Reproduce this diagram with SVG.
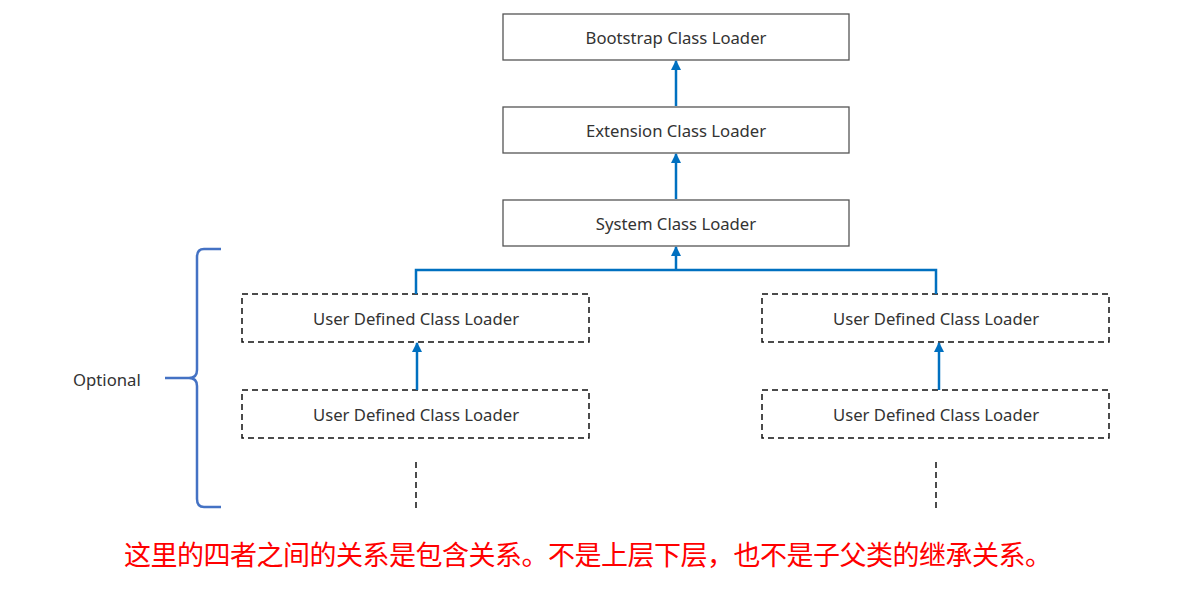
<svg xmlns="http://www.w3.org/2000/svg" width="1196" height="603" viewBox="0 0 1196 603">
<defs>
<marker id="ah" viewBox="0 0 10 10" refX="9" refY="5" markerWidth="4" markerHeight="4" orient="auto">
<path d="M0,0 L10,5 L0,10 z" fill="#0070C0"/>
</marker>
<style>
.box{fill:#fff;stroke:#555;stroke-width:1.3}
.dbox{fill:#fff;stroke:#111;stroke-width:1.5;stroke-dasharray:6,4}
.lbl{font-family:"Noto Sans","Open Sans",sans-serif;font-size:16.7px;fill:#333;text-anchor:middle}
.con{fill:none;stroke:#0070C0;stroke-width:2.5}
.dash{stroke:#111;stroke-width:1.5;stroke-dasharray:6,4}
</style>
</defs>
<rect width="1196" height="603" fill="#fff"/>
<g id="bootstrap"><rect class="box" x="503" y="14" width="346" height="46"/><text class="lbl" x="676" y="44">Bootstrap Class Loader</text></g>
<g id="extension"><rect class="box" x="503" y="107" width="346" height="46"/><text class="lbl" x="676" y="137">Extension Class Loader</text></g>
<g id="system"><rect class="box" x="503" y="200" width="346" height="46"/><text class="lbl" x="676" y="230">System Class Loader</text></g>
<g id="user-l1"><rect class="dbox" x="242" y="294" width="347" height="48"/><text class="lbl" x="416" y="325">User Defined Class Loader</text></g>
<g id="user-l2"><rect class="dbox" x="242" y="390" width="347" height="48"/><text class="lbl" x="416" y="421">User Defined Class Loader</text></g>
<g id="user-r1"><rect class="dbox" x="762" y="294" width="347" height="48"/><text class="lbl" x="936" y="325">User Defined Class Loader</text></g>
<g id="user-r2"><rect class="dbox" x="762" y="390" width="347" height="48"/><text class="lbl" x="936" y="421">User Defined Class Loader</text></g>
<g id="connectors">
<line class="con" x1="676" y1="106" x2="676" y2="61" marker-end="url(#ah)"/>
<line class="con" x1="676" y1="199" x2="676" y2="154" marker-end="url(#ah)"/>
<line class="con" x1="676" y1="270" x2="676" y2="247" marker-end="url(#ah)"/>
<polyline class="con" points="416,294 416,270 936,270 936,294"/>
<line class="con" x1="417" y1="390" x2="417" y2="343" marker-end="url(#ah)"/>
<line class="con" x1="939" y1="390" x2="939" y2="343" marker-end="url(#ah)"/>
<line class="dash" x1="416" y1="462" x2="416" y2="508"/>
<line class="dash" x1="936" y1="462" x2="936" y2="508"/>
</g>
<g id="brace">
<path d="M221,249 L204,249 Q197,249 197,257 L197,370 Q197,378 189,378 L165,378 M189,378 Q197,378 197,386 L197,499 Q197,507 204,507 L221,507" fill="none" stroke="#4472C4" stroke-width="2.5"/>
<text x="73" y="386" style="font-family:'Noto Sans','Open Sans',sans-serif;font-size:16.7px;fill:#333">Optional</text>
</g>
<text x="124" y="565" style="font-family:'Noto Sans CJK SC',sans-serif;font-size:27px;fill:#FF0000" textLength="928">这里的四者之间的关系是包含关系。不是上层下层，也不是子父类的继承关系。</text>
</svg>
